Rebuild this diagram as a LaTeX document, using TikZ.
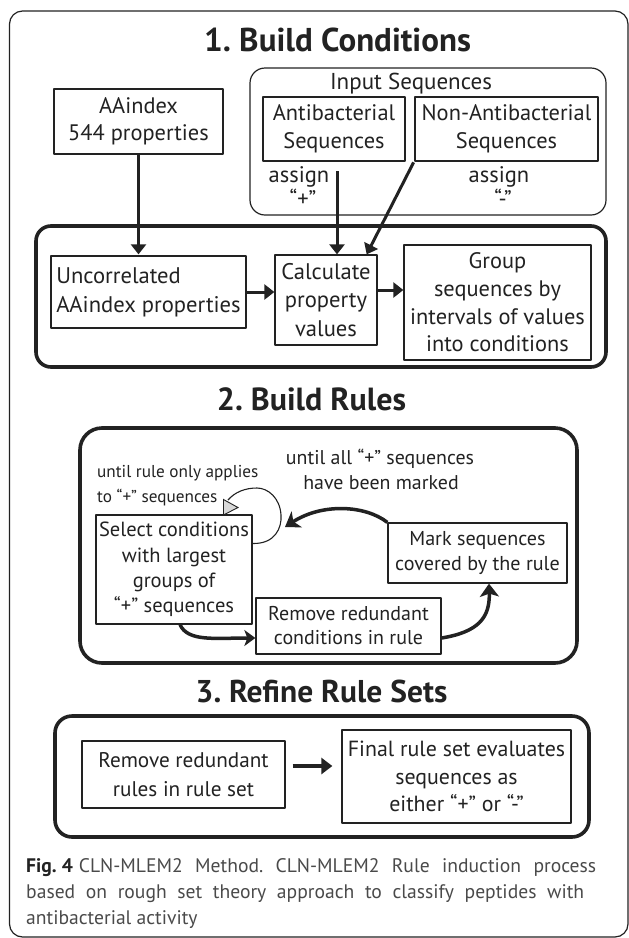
\documentclass[tikz,border=0pt]{standalone}
\usepackage{fontspec}
\setmainfont{PT Sans}
\usetikzlibrary{arrows.meta,calc}
\definecolor{ink}{HTML}{222222}
\definecolor{capgray}{HTML}{4A4A4A}
\frenchspacing
\begin{document}
\begin{tikzpicture}[x=1pt,y=-1pt, line join=round,
  box/.style={draw=ink, line width=1.3pt, inner sep=0pt, align=center, text=ink, font=\fontsize{20}{26}\selectfont},
  thickbox/.style={box, line width=2.8pt},
  frame/.style={draw=ink, line width=3.6pt, inner sep=0pt},
  ttl/.style={font=\fontsize{33}{36}\selectfont\bfseries, text=ink, anchor=base, inner sep=0pt},
  lbl/.style={font=\fontsize{22.5}{24}\selectfont, text=ink, inner sep=0pt, anchor=base},
  smalltxt/.style={font=\fontsize{17.2}{20}\selectfont, text=ink, inner sep=0pt, anchor=base west},
  captxt/.style={font=\fontsize{19.6}{24}\selectfont, text=capgray, inner sep=0pt, anchor=base west},
  arr/.style={draw=ink, line width=3pt, -{Triangle[length=10pt,width=15pt]}},
  carr/.style={draw=ink, line width=3.5pt, -{Stealth[length=14pt,width=19pt,inset=4pt]}},
]
\useasboundingbox (0,0) rectangle (629,938);
\fill[white] (0,0) rectangle (629,938);
\node[draw=ink, line width=1.2pt, rounded corners=13pt, inner sep=0pt, minimum width=618.5pt, minimum height=926pt] (outer) at (318.75,474) {};

% ---------- 1. Build Conditions ----------
\node[ttl] (t1) at (337.5,51) {1. Build Conditions};
\node[thickbox, minimum width=169pt, minimum height=65pt, font=\fontsize{22.4}{26.7}\selectfont] (aa) at (138.5,121.5) {AAindex\\544 properties};
\node[draw=ink, line width=1.2pt, rounded corners=15pt, inner sep=0pt, minimum width=356pt, minimum height=147pt] (inp) at (428,141.5) {};
\node[lbl, font=\fontsize{23}{24}\selectfont] (inpl) at (411,89) {Input Sequences};
\node[thickbox, minimum width=142pt, minimum height=64pt, font=\fontsize{22.4}{28}\selectfont] (anti) at (334,129) {Antibacterial\\Sequences};
\node[thickbox, minimum width=183pt, minimum height=64pt, font=\fontsize{22.4}{28}\selectfont] (non) at (506.5,129) {Non-Antibacterial\\Sequences};
\node[lbl] (asg1) at (299,182) {assign};
\node[lbl] (pl1) at (303,206) {“+”};
\node[lbl] (asg2) at (499,182) {assign};
\node[lbl] (mi1) at (503,206) {“-”};

\node[frame, rounded corners=15pt, minimum width=570pt, minimum height=141pt] (f1) at (321,296.5) {};
\node[box, minimum width=195pt, minimum height=72pt, align=left, font=\fontsize{22.6}{29}\selectfont] (unc) at (148.5,292) {Uncorrelated\\AAindex properties};
\node[box, minimum width=102pt, minimum height=90pt, font=\fontsize{22.6}{28.5}\selectfont] (calc) at (326,300) {Calculate\\property\\values};
\node[box, minimum width=187pt, minimum height=115pt, font=\fontsize{22.4}{27.7}\selectfont] (grp) at (497.5,302.5) {Group\\sequences by\\intervals of values\\into conditions};

\coordinate (a2s) at (337,171);
\draw[arr] (aa.south) -- (aa.south |- calc.north);
\draw[arr] (a2s) -- (a2s |- calc.north);
\draw[arr] (non.south west) -- ($(calc.north east)+(-11,0)$);
\draw[arr] (unc.east) -- (unc.east -| calc.west);
\draw[arr] ($(calc.east)+(0,-10)$) -- ($(calc.east -| grp.west)+(0,-10)$);

% ---------- 2. Build Rules ----------
\node[ttl, font=\fontsize{32}{36}\selectfont\bfseries] (t2) at (311.5,410) {2. Build Rules};
\node[frame, rounded corners=22pt, minimum width=497pt, minimum height=235pt] (f2) at (328.5,545.5) {};
\node[smalltxt] (u1) at (97,477) {until rule only applies};
\node[smalltxt] (u2) at (97,502) {to “+” sequences};
\node[lbl, font=\fontsize{19.9}{24}\selectfont] (m1) at (380,464) {until all “+” sequences};
\node[lbl, font=\fontsize{19.9}{24}\selectfont] (m2) at (381,489) {have been marked};
\node[box, minimum width=156pt, minimum height=109pt, font=\fontsize{20.5}{25.3}\selectfont] (sel) at (174,569.5) {Select conditions\\with largest\\groups of\\“+” sequences};
\node[box, minimum width=185pt, minimum height=56pt, font=\fontsize{20}{24}\selectfont] (rc) at (348.5,626) {Remove redundant\\conditions in rule};
\node[box, minimum width=179pt, minimum height=60pt, font=\fontsize{20.1}{25}\selectfont] (mark) at (477.5,553) {Mark sequences\\covered by the rule};

% self loop on Select
\draw[ink, line width=1.1pt] ($(sel.east)+(0,-26)$) .. controls (275,544) and (282,528) .. (281,515)
  .. controls (280,498) and (268,488) .. (257,488) .. controls (245,488) and (235,492) .. (228,500);
\filldraw[draw=ink, fill=black!15, line width=0.9pt, line join=miter] (223.5,499.5) -- (238,507.5) -- (223.5,515) -- cycle;

\draw[carr] (mark.north west) .. controls (365,505) and (322,503) .. (285,527);
\draw[carr, -{Stealth[length=11pt,width=16pt,inset=3pt]}] ($(sel.south)+(6,0)$) .. controls (188,642) and (215,638) .. ($(rc.west)+(0,12)$);
\draw[carr, -{Stealth[length=13pt,width=19pt,inset=3pt]}] ($(rc.east)+(0,12)$) .. controls (478,632) and (490,618) .. ($(mark.south)+(11.5,0)$);

% ---------- 3. Refine Rule Sets ----------
\node[ttl, font=\fontsize{31.5}{36}\selectfont\bfseries] (t3) at (321.5,702) {3. Refine Rule Sets};
\node[frame, rounded corners=17pt, minimum width=534pt, minimum height=121pt] (f3) at (322,776.5) {};
\node[box, minimum width=203pt, minimum height=67pt, font=\fontsize{21.2}{29}\selectfont] (rr) at (183.5,774.5) {Remove redundant\\rules in rule set};
\node[box, minimum width=229pt, minimum height=93pt, font=\fontsize{21.9}{27.5}\selectfont] (fin) at (456.5,776.5) {Final rule set evaluates\\sequences as\\either “+” or “-”};
\draw[arr, line width=3.4pt, -{Triangle[length=11pt,width=16pt]}] ($(rr.east)+(7,-8.5)$) -- ($(rr.east -| fin.west)+(-9,-8.5)$);

% ---------- caption ----------
\node[captxt] (c1) at (26,872) {\makebox[570pt][s]{\textcolor{ink}{\bfseries Fig.\hspace{5pt}4}\hspace{6pt}CLN-MLEM2 Method. CLN-MLEM2 Rule induction process}};
\node[captxt] (c2) at (26,898) {\makebox[558pt][s]{based on rough set theory approach to classify peptides with}};
\node[captxt] (c3) at (26,924) {antibacterial activity};
\end{tikzpicture}
\end{document}
